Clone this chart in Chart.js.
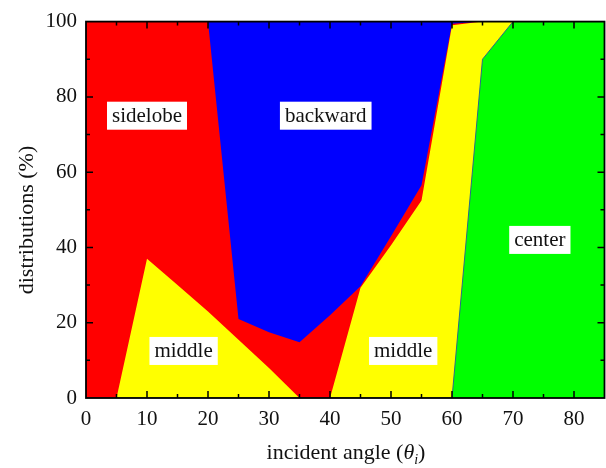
<!DOCTYPE html>
<html><head><meta charset="utf-8">
<script src="https://cdn.jsdelivr.net/npm/chart.js"></script>
<style>html,body{margin:0;padding:0;background:#fff}#c{display:block}</style>
</head><body>
<canvas id="c" width="606" height="468"></canvas>
<script>
const angles   = [0,5,10,15,20,25,30,35,40,45,50,55,60,65,70,75,80,85];
const center   = [0,0,0,0,0,0,0,0,0,0,0,0,0,90,100,100,100,100];
const middle   = [0,0,37,30,23,15.5,8,0,0,29.3,40.6,52.5,99,10,0,0,0,0];
const sidelobe = [100,100,63,70,77,5.5,9.5,14.8,22,0.4,2.4,4,0.4,0,0,0,0,0];
const backward = [0,0,0,0,0,79,82.5,85.2,78,70.3,57,43.5,0.6,0,0,0,0,0];
const xTicks = [0,10,20,30,40,50,60,70,80];
const yTicks = [0,20,40,60,80,100];
const regionLabels = ['sidelobe','backward','middle','middle','center'];
const labelX = [10,39.3,16,52,74.4];
const labelY = [75,75,12.5,12.5,42];

const FONT = "'Liberation Serif', 'Times New Roman', serif";
const pts = arr => angles.map((a,i)=>({x:a,y:arr[i]}));
const ds = (label, arr, color, border) => ({
  label, data: pts(arr), backgroundColor: color, borderColor: border || color,
  borderWidth: border ? 1 : 0, pointRadius: 0, tension: 0, fill: 'origin'
});

const framePlugin = {
  id: 'frame',
  afterDatasetsDraw(chart) {
    const {ctx, chartArea: a, scales: {x, y}} = chart;
    ctx.save();
    ctx.strokeStyle = '#000';
    ctx.lineWidth = 1.5;
    ctx.beginPath();
    for (let v = 0; v <= 85; v += 5) {
      if (v === 0 || v === 85) continue;
      const len = v % 10 === 0 ? 7 : 4;
      const px = x.getPixelForValue(v);
      ctx.moveTo(px, a.bottom); ctx.lineTo(px, a.bottom - len);
      ctx.moveTo(px, a.top); ctx.lineTo(px, a.top + len);
    }
    for (let v = 10; v < 100; v += 10) {
      const len = v % 20 === 0 ? 7 : 4;
      const py = y.getPixelForValue(v);
      ctx.moveTo(a.left, py); ctx.lineTo(a.left + len, py);
      ctx.moveTo(a.right, py); ctx.lineTo(a.right - len, py);
    }
    ctx.stroke();
    ctx.lineWidth = 1.8;
    ctx.strokeRect(a.left, a.top, a.right - a.left, a.bottom - a.top);
    ctx.restore();
  },
  afterDraw(chart) {
    const {ctx, chartArea: a, scales: {x, y}} = chart;
    ctx.save();
    // region labels
    ctx.font = '21px ' + FONT;
    ctx.textAlign = 'center';
    ctx.textBaseline = 'middle';
    regionLabels.forEach((t, i) => {
      const cx = x.getPixelForValue(labelX[i]);
      const cy = y.getPixelForValue(labelY[i]);
      const w = ctx.measureText(t).width + 10;
      const h = 28;
      ctx.fillStyle = '#fff';
      ctx.fillRect(cx - w/2, cy - h/2, w, h);
      ctx.fillStyle = '#111';
      ctx.fillText(t, cx, cy + 1);
    });
    // x title
    ctx.textAlign = 'left';
    ctx.textBaseline = 'alphabetic';
    const f1 = '22px ' + FONT, fi = 'italic 22px ' + FONT, fs = 'italic 14px ' + FONT;
    const parts = [['incident angle (', f1, 0], ['\u03b8', fi, 0], ['i', fs, 5], [')', f1, 0]];
    let total = 0;
    parts.forEach(p => { ctx.font = p[1]; total += ctx.measureText(p[0]).width; });
    let px = 346 - total/2;
    const base = 459;
    ctx.fillStyle = '#111';
    parts.forEach(p => { ctx.font = p[1]; ctx.fillText(p[0], px, base + p[2]); px += ctx.measureText(p[0]).width; });
    // y title
    ctx.translate(33, 220);
    ctx.rotate(-Math.PI/2);
    ctx.font = f1;
    ctx.textAlign = 'center';
    ctx.fillText('distributions (%)', 0, 0);
    ctx.restore();
  }
};

new Chart(document.getElementById('c'), {
  type: 'line',
  data: {
    datasets: [
      ds('center', center, '#00ff00', '#2a6a8a'),
      ds('middle', middle, '#ffff00'),
      ds('sidelobe', sidelobe, '#ff0000'),
      ds('backward', backward, '#0000ff')
    ]
  },
  options: {
    responsive: false,
    animation: false,
    layout: {padding: {top: 18, right: 1.5, left: 0, bottom: 0}},
    plugins: {legend: {display: false}, tooltip: {enabled: false}},
    scales: {
      x: {
        type: 'linear', min: 0, max: 85,
        grid: {display: false, drawTicks: false},
        border: {display: false},
        afterBuildTicks: s => { s.ticks = xTicks.map(v => ({value: v})); },
        ticks: {font: {family: FONT, size: 21}, color: '#111', padding: 9, maxRotation: 0, autoSkip: false},
        afterFit: s => { s.height = 70; }
      },
      y: {
        type: 'linear', min: 0, max: 100, stacked: true,
        grid: {display: false, drawTicks: false},
        border: {display: false},
        afterBuildTicks: s => { s.ticks = yTicks.map(v => ({value: v})); },
        ticks: {font: {family: FONT, size: 21}, color: '#111', padding: 9, autoSkip: false},
        afterFit: s => { s.width = 86; }
      }
    }
  },
  plugins: [framePlugin]
});
</script>
</body></html>
